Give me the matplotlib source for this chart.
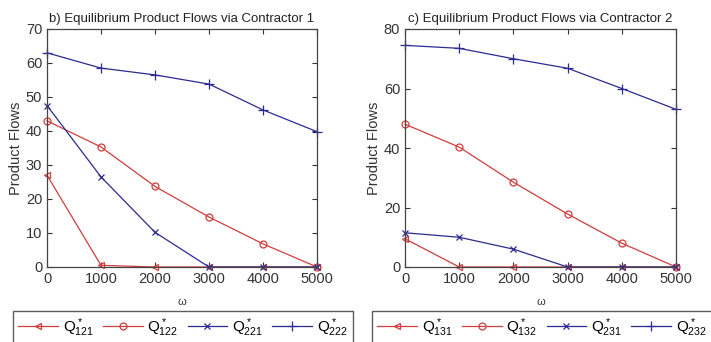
import matplotlib
matplotlib.use("Agg")
import matplotlib.pyplot as plt

plt.rcParams['font.family'] = ['Liberation Sans', 'DejaVu Sans']
plt.rcParams['mathtext.fontset'] = 'custom'
plt.rcParams['mathtext.rm'] = 'Liberation Sans'
plt.rcParams['mathtext.it'] = 'Liberation Sans'

omega = [0, 1000, 2000, 3000, 4000, 5000]

# Contractor 1
q121 = [27, 0.5, 0, 0, 0, 0]
q122 = [43, 35.3, 23.7, 14.7, 6.8, 0]
q221 = [47.5, 26.5, 10.2, 0, 0, 0]
q222 = [63, 58.5, 56.5, 53.8, 46.2, 39.8]

# Contractor 2
q131 = [9.5, 0, 0, 0, 0, 0]
q132 = [48, 40.3, 28.5, 17.8, 8, 0]
q231 = [11.5, 10, 6, 0, 0, 0]
q232 = [74.5, 73.5, 70, 66.8, 60, 53]

titles = ["b) Equilibrium Product Flows via Contractor 1",
          "c) Equilibrium Product Flows via Contractor 2"]
labels1 = [r"$Q^*_{121}$", r"$Q^*_{122}$", r"$Q^*_{221}$", r"$Q^*_{222}$"]
labels2 = [r"$Q^*_{131}$", r"$Q^*_{132}$", r"$Q^*_{231}$", r"$Q^*_{232}$"]
ylims = [70, 80]
ysteps = [10, 20]

RED = '#d23c3c'
BLUE = '#2b2b92'
styles = [(RED, '<', 5), (RED, 'o', 5), (BLUE, 'x', 5), (BLUE, '+', 7)]

fig = plt.figure(figsize=(7.11, 3.42), dpi=100)
axpos = [[47/711, 1-267/342, 270/711, 238/342],
         [405/711, 1-267/342, 271/711, 238/342]]
legpos = [[13/711, -2/342, 340/711, 37/342],
          [372/711, -2/342, 340/711, 37/342]]

datasets = [[q121, q122, q221, q222], [q131, q132, q231, q232]]
labelsets = [labels1, labels2]

for i in range(2):
    ax = fig.add_axes(axpos[i])
    for series, lab, (c, m, ms) in zip(datasets[i], labelsets[i], styles):
        ax.plot(omega, series, color=c, marker=m, markersize=ms, lw=0.9,
                markerfacecolor='none' if m in ('o', '<') else c,
                markeredgecolor=c, markeredgewidth=0.9, label=lab,
                clip_on=False)
    ax.set_xlim(0, 5000)
    ax.set_ylim(0, ylims[i])
    ax.set_xticks(omega)
    ax.set_yticks(range(0, ylims[i] + 1, ysteps[i]))
    ax.tick_params(direction='in', top=True, right=True, length=3.5,
                   labelsize=10.5, colors='#333333', labelcolor='#333333', width=0.8)
    for s in ax.spines.values():
        s.set_color('#444444')
        s.set_linewidth(0.9)
    ax.set_title(titles[i], fontsize=9.5, color='#222222', pad=5)
    ax.set_ylabel("Product Flows", fontsize=10.5, color='#333333', labelpad=2)
    ax.set_xlabel("ω", fontsize=8, color='#333333', labelpad=8)
    leg = ax.legend(loc='lower left', bbox_to_anchor=legpos[i],
                    bbox_transform=fig.transFigure, mode='expand', ncol=4,
                    fontsize=11, frameon=True, fancybox=False,
                    handlelength=2.6, handletextpad=0.3, columnspacing=0.8,
                    borderaxespad=0, borderpad=0.35)
    leg.get_frame().set_edgecolor('#333333')
    leg.get_frame().set_linewidth(1.0)

fig.savefig("out.png", dpi=100, facecolor='white')
